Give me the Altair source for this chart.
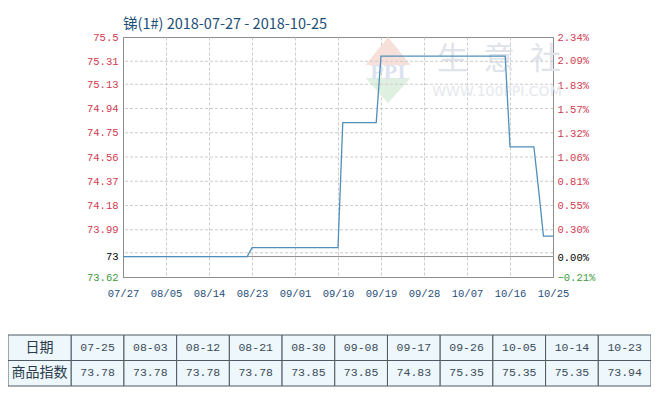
import altair as alt
import pandas as pd

# ---------------- data ----------------
title_text = "锑(1#) 2018-07-27 - 2018-10-25"

line_dates = ["2018-07-27", "2018-08-22", "2018-08-23", "2018-09-10", "2018-09-11",
              "2018-09-18", "2018-09-19", "2018-10-15", "2018-10-16", "2018-10-21",
              "2018-10-22", "2018-10-23", "2018-10-25"]
line_values = [73.78, 73.78, 73.85, 73.85, 74.83, 74.83, 75.35, 75.35, 74.64, 74.64,
               74.30, 73.94, 73.94]
base_value = 73.78

x_tick_dates = ["2018-07-27", "2018-08-05", "2018-08-14", "2018-08-23", "2018-09-01",
                "2018-09-10", "2018-09-19", "2018-09-28", "2018-10-07", "2018-10-16",
                "2018-10-25"]
price_ticks = [73.62, 73.78, 73.99, 74.18, 74.37, 74.56, 74.75, 74.94, 75.13, 75.31, 75.5]
grid_values = [73.81, 73.99, 74.18, 74.37, 74.56, 74.75, 74.94, 75.13, 75.31]
pct_ticks = [-0.21, 0.00, 0.30, 0.55, 0.81, 1.06, 1.32, 1.57, 1.83, 2.09, 2.34]

row_headers = ["日期", "商品指数"]
table_dates = ["07-25", "08-03", "08-12", "08-21", "08-30", "09-08", "09-17",
               "09-26", "10-05", "10-14", "10-23"]
table_values = ["73.78", "73.78", "73.78", "73.78", "73.85", "73.85", "74.83",
                "75.35", "75.35", "75.35", "73.94"]

# ---------------- helpers ----------------
def ms(d):
    return int(pd.Timestamp(d, tz="UTC").timestamp() * 1000)

RED = "#d0394f"
GREEN = "#3c9a3c"
FRAME = "#8c8c8c"
GRID = "#cccccc"
NUMFONT = "Liberation Mono"
CJK = "Noto Sans CJK SC"

line_df = pd.DataFrame({"t": [ms(d) for d in line_dates], "v": line_values})
x_ticks = [ms(d) for d in x_tick_dates]

x_enc = alt.X(
    "t:T",
    scale=alt.Scale(type="utc", domain=[x_ticks[0], x_ticks[-1]], nice=False),
    axis=alt.Axis(values=x_ticks, labelExpr="utcFormat(datum.value, '%m/%d')",
                  grid=True, gridDash=[3, 2], gridColor=GRID, ticks=False,
                  domainColor=FRAME, labelFont=NUMFONT, labelFontSize=10.5,
                  labelColor="#1f4e79", labelPadding=11, labelOverlap=False,
                  labelFlush=False, title=None),
)

price_scale = alt.Scale(domain=[73.62, 75.5], nice=False, zero=False)
price_axis = alt.Axis(
    values=price_ticks,
    labelExpr="datum.value == 73.78 ? '73' : '' + datum.value",
    grid=False, ticks=False, domainColor=FRAME, labelFont=NUMFONT,
    labelFontSize=10.5, labelPadding=5, labelOverlap=False, title=None,
    labelColor={"condition": [{"test": "datum.value == 73.78", "value": "#000000"},
                              {"test": "datum.value < 73.7", "value": GREEN}],
                "value": RED},
)
y_price = alt.Y("v:Q", scale=price_scale, axis=price_axis)

# ---- faint watermark (decoration) ----
one = pd.DataFrame({"k": [0]})
logo_top = alt.Chart(one).mark_point(
    shape="M0,-1.24L1,0L-1,0Z", filled=True, size=2025, color="#f8e0da", opacity=1
).encode(x=alt.value(265), y=alt.value(28))
logo_bot = alt.Chart(one).mark_point(
    shape="M-1,0L1,0L0,1.11Z", filled=True, size=2025, color="#e0f0e0", opacity=1
).encode(x=alt.value(265), y=alt.value(41))
logo_txt = alt.Chart(pd.DataFrame({"s": ["PPI"]})).mark_text(
    font="Liberation Serif", fontSize=22, fontWeight="bold", color="#dde3f0"
).encode(text="s:N", x=alt.value(265), y=alt.value(35))
wm1 = alt.Chart(pd.DataFrame({"s": ["生\u2002意\u2002社"]})).mark_text(
    font=CJK, fontSize=31, color="#e0e3ea"
).encode(text="s:N", x=alt.value(376), y=alt.value(23))
wm2 = alt.Chart(pd.DataFrame({"s": ["WWW.100PPI.COM"]})).mark_text(
    font="DejaVu Sans", fontSize=14, color="#e6e8ee"
).encode(text="s:N", x=alt.value(374), y=alt.value(55))

grid_rules = alt.Chart(pd.DataFrame({"v": grid_values})).mark_rule(
    color=GRID, strokeDash=[3, 2], strokeWidth=1
).encode(y=y_price)

base_rule = alt.Chart(pd.DataFrame({"v": [base_value]})).mark_rule(
    color=FRAME, strokeWidth=1
).encode(y=y_price)

line = alt.Chart(line_df).mark_line(color="#4f8fba", strokeWidth=1.3).encode(
    x=x_enc, y=y_price
)

price_group = alt.layer(logo_top, logo_bot, logo_txt, wm1, wm2, grid_rules, base_rule, line)

pct = alt.Chart(line_df).transform_calculate(
    pct=f"(datum.v / {base_value} - 1) * 100"
).mark_line(opacity=0).encode(
    x=x_enc,
    y=alt.Y("pct:Q", scale=alt.Scale(domain=[-0.21, 2.34], nice=False, zero=False),
            axis=alt.Axis(orient="right", values=pct_ticks,
                          labelExpr="format(datum.value, '.2f') + '%'",
                          grid=False, ticks=False, domainColor=FRAME,
                          labelFont=NUMFONT, labelFontSize=10.5, labelPadding=4,
                          labelOverlap=False, title=None,
                          labelColor={"condition": [
                              {"test": "datum.value == 0", "value": "#000000"},
                              {"test": "datum.value < 0", "value": GREEN}],
                              "value": RED})),
)

plot = alt.layer(price_group, pct).resolve_scale(y="independent")

# ---------------- table ----------------
cells = []
for r, h in enumerate(row_headers):
    cells.append({"x0": -1.2, "x1": 0.0, "r0": r, "r1": r + 1, "label": h, "kind": "h"})
for i, (d, v) in enumerate(zip(table_dates, table_values)):
    cells.append({"x0": i, "x1": i + 1, "r0": 0, "r1": 1, "label": d, "kind": "d"})
    cells.append({"x0": i, "x1": i + 1, "r0": 1, "r1": 2, "label": v, "kind": "d"})
cells_df = pd.DataFrame(cells)
cells_df["xc"] = (cells_df["x0"] + cells_df["x1"]) / 2
cells_df["rc"] = (cells_df["r0"] + cells_df["r1"]) / 2

tx_scale = alt.Scale(domain=[-1.2, 11], range=[-115, 528], nice=False, zero=False)
ty_scale = alt.Scale(domain=[0, 2], range=[298, 349], nice=False, zero=False)

rects = alt.Chart(cells_df).mark_rect(fill="#eef7fb", stroke="#4d5a63", strokeWidth=1).encode(
    x=alt.X("x0:Q", scale=tx_scale, axis=None), x2="x1:Q",
    y=alt.Y("r0:Q", scale=ty_scale, axis=None), y2="r1:Q",
)
head_text = alt.Chart(cells_df[cells_df.kind == "h"]).mark_text(
    font=CJK, fontSize=14, color="#2a3a4a"
).encode(
    x=alt.X("xc:Q", scale=tx_scale, axis=None),
    y=alt.Y("rc:Q", scale=ty_scale, axis=None), text="label:N",
)
data_text = alt.Chart(cells_df[cells_df.kind == "d"]).mark_text(
    font=NUMFONT, fontSize=11.5, color="#3a4a58"
).encode(
    x=alt.X("xc:Q", scale=tx_scale, axis=None),
    y=alt.Y("rc:Q", scale=ty_scale, axis=None), text="label:N",
)
table = alt.layer(rects, head_text, data_text)

chart = alt.layer(plot, table).resolve_scale(x="independent", y="independent").properties(
    width=430, height=240,
    autosize=alt.AutoSizeParams(type="none"),
    padding={"left": 115, "top": 29, "right": 98, "bottom": 111},
    title=alt.TitleParams(text=title_text, anchor="start", frame="group", font=CJK,
                          fontSize=14.5, fontWeight="normal", color="#1d4f78", offset=0),
).configure_view(stroke=FRAME, strokeWidth=1)

chart.save("out.html", embed_options={"renderer": "svg", "actions": False})
